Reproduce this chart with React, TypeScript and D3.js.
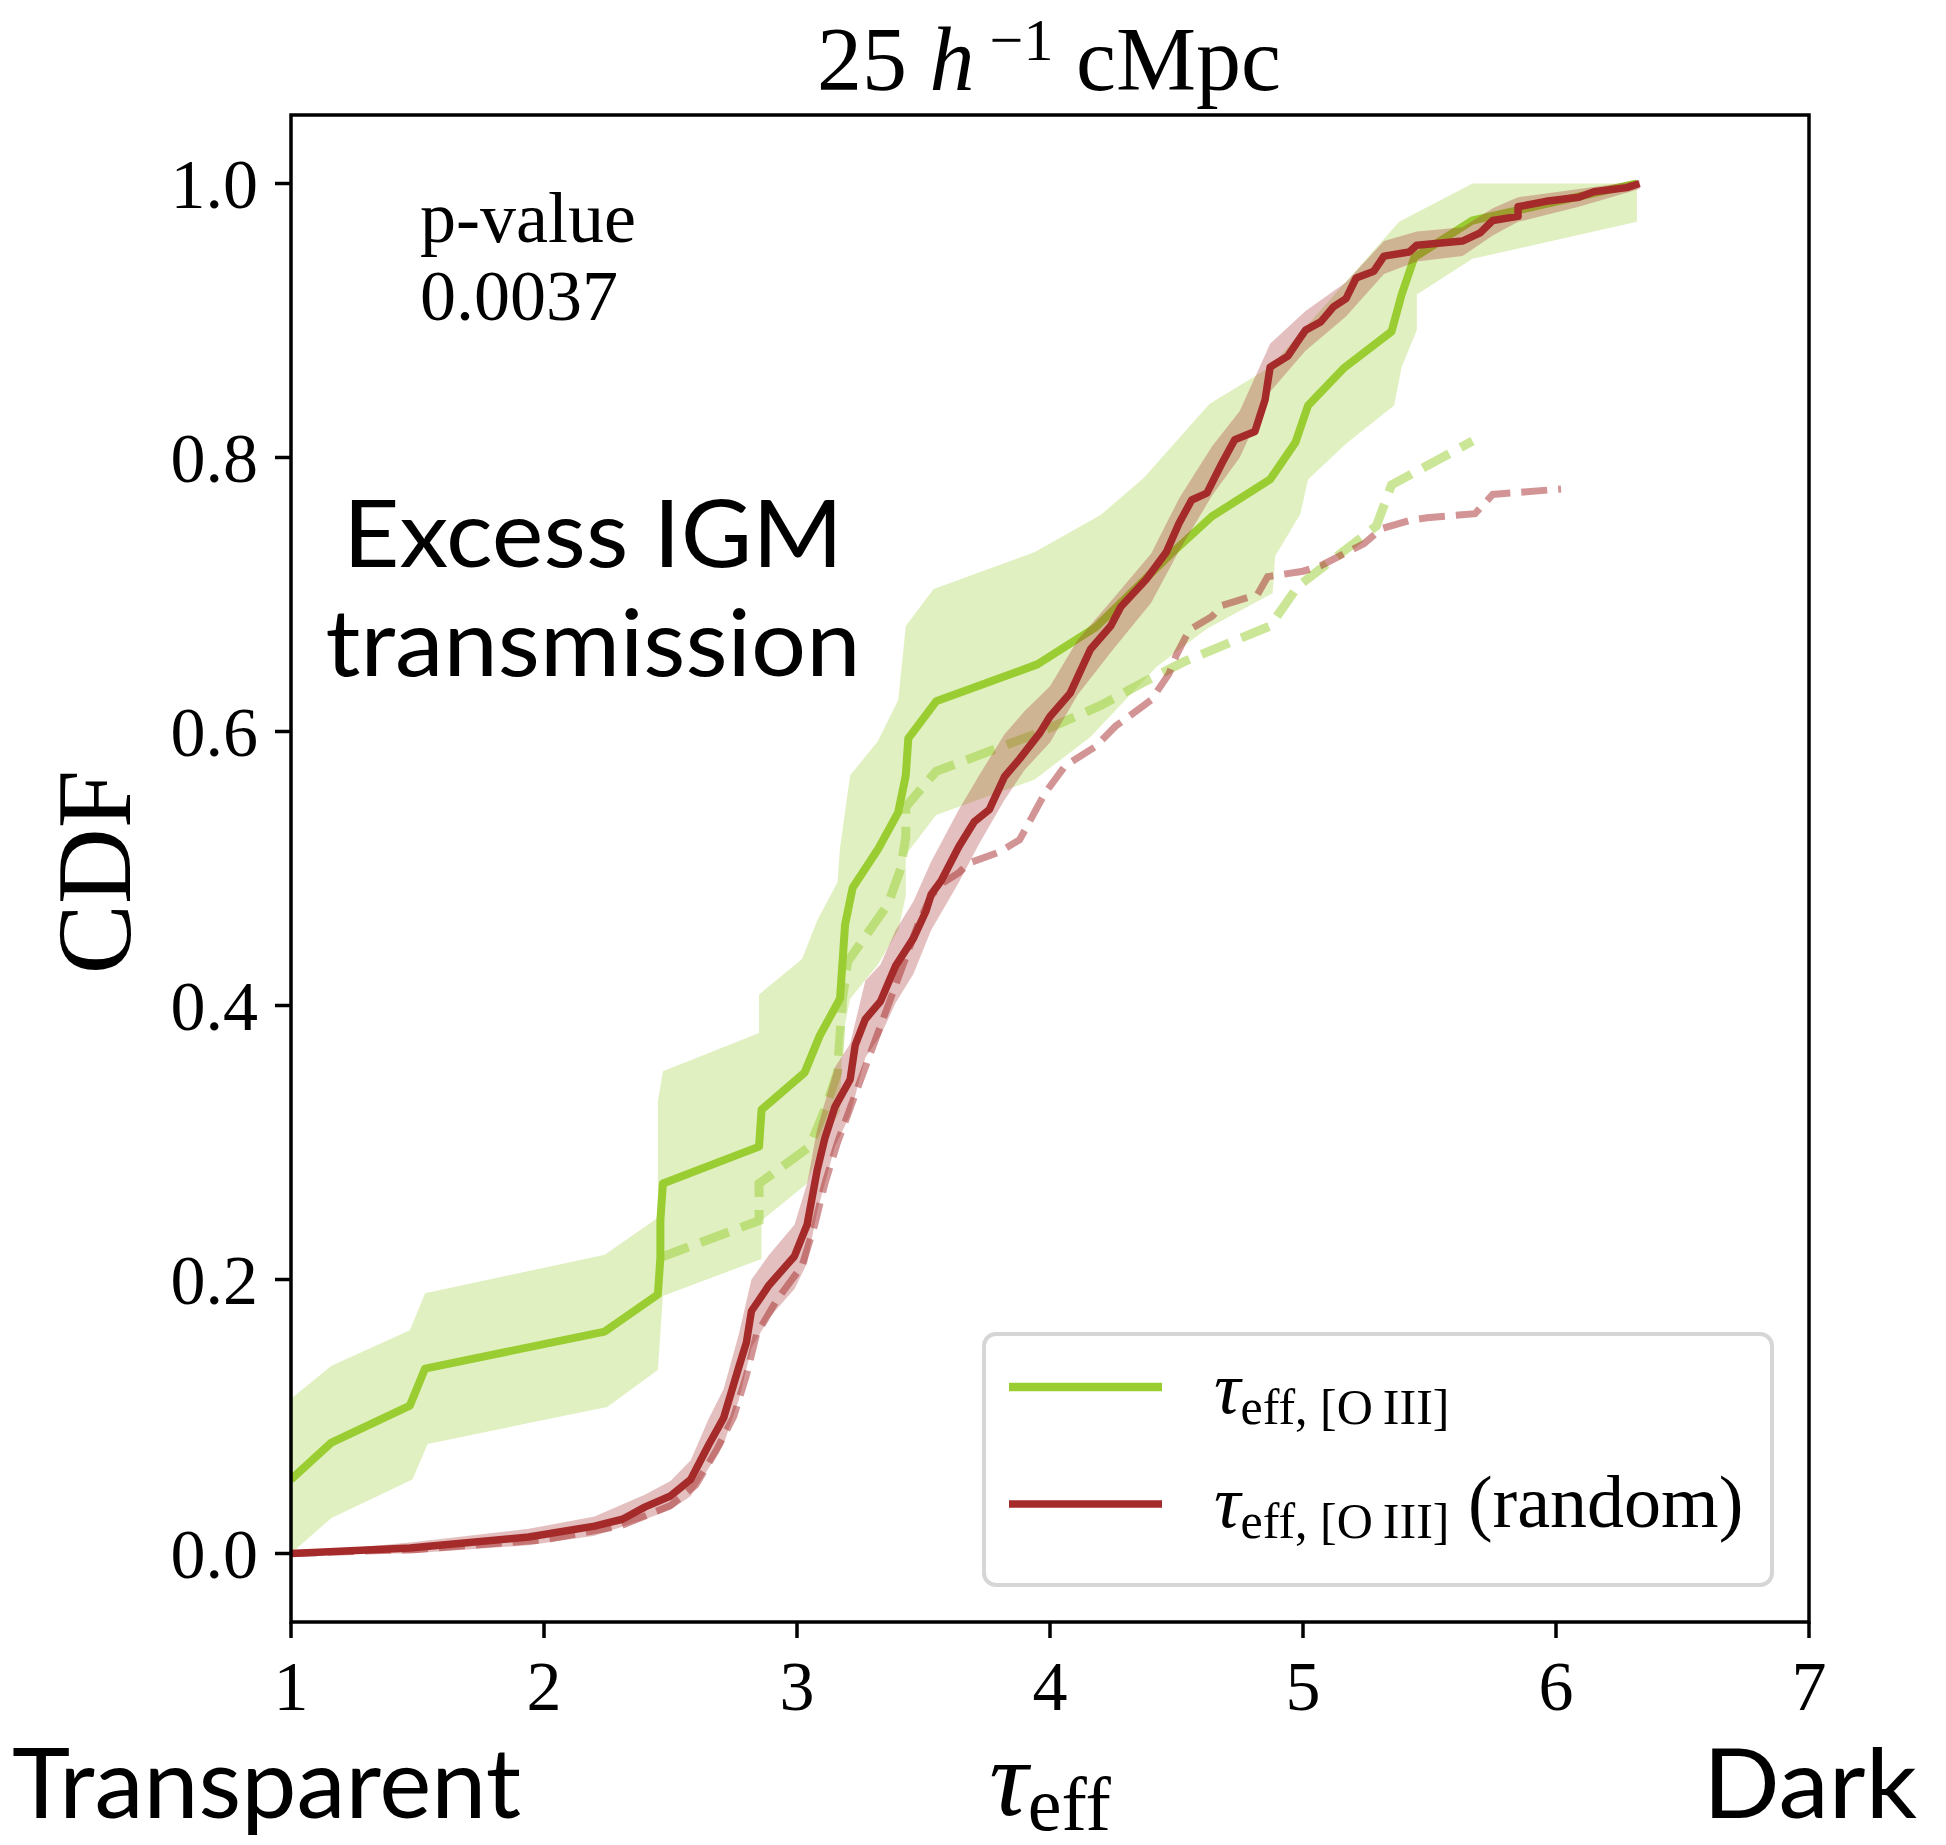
import React from 'react';
import * as d3 from 'd3';

const W = 1946;
const H = 1845;
const M = { left: 291, right: 1809, top: 115, bottom: 1622 };

const GREEN = '#9acd32';
const RED = '#a52a2a';
const SERIF = '"Liberation Serif", "Times New Roman", serif';
const SANS = 'Lato, "Open Sans", sans-serif';

const X_DOMAIN = [1, 7];
const Y_DOMAIN = [-0.05, 1.05];
const xTicks = [1, 2, 3, 4, 5, 6, 7];
const yTicks = [0, 0.2, 0.4, 0.6, 0.8, 1.0];

// CDF of tau_eff for [OIII] sightlines (solid)
const greenCdf = [
  [1.0, 0.054], [1.16, 0.081], [1.47, 0.108], [1.53, 0.135], [2.24, 0.162], [2.45, 0.189],
  [2.46, 0.216], [2.46, 0.243], [2.47, 0.27], [2.85, 0.297], [2.86, 0.324], [3.03, 0.351],
  [3.09, 0.378], [3.17, 0.405], [3.18, 0.432], [3.19, 0.459], [3.22, 0.486], [3.32, 0.514],
  [3.4, 0.541], [3.43, 0.568], [3.44, 0.595], [3.55, 0.622], [3.95, 0.649], [4.18, 0.676],
  [4.33, 0.703], [4.48, 0.73], [4.64, 0.757], [4.87, 0.784], [4.97, 0.811], [5.02, 0.838],
  [5.16, 0.865], [5.35, 0.892], [5.39, 0.919], [5.44, 0.946], [5.67, 0.973], [6.32, 1.0],
];

// with lower limits (dashed)
const greenCdfLim = [
  [2.46, 0.216], [2.85, 0.243], [2.85, 0.27], [3.05, 0.297], [3.11, 0.324], [3.16, 0.351],
  [3.17, 0.378], [3.18, 0.405], [3.2, 0.432], [3.28, 0.453], [3.36, 0.474], [3.41, 0.5],
  [3.43, 0.523], [3.43, 0.545], [3.55, 0.571], [3.94, 0.598], [4.2, 0.619], [4.37, 0.636],
  [4.53, 0.651], [4.87, 0.677], [4.98, 0.706], [5.29, 0.75], [5.35, 0.78], [5.67, 0.812],
];

const greenBandHi = [
  [1.0, 0.113], [1.16, 0.137], [1.47, 0.163], [1.53, 0.19], [2.24, 0.218], [2.45, 0.245],
  [2.45, 0.33], [2.47, 0.352], [2.85, 0.38], [2.85, 0.408], [3.02, 0.434], [3.08, 0.462],
  [3.16, 0.49], [3.17, 0.515], [3.21, 0.568], [3.32, 0.593], [3.4, 0.623], [3.43, 0.677],
  [3.54, 0.704], [3.94, 0.731], [4.2, 0.758], [4.37, 0.785], [4.51, 0.814], [4.63, 0.839],
  [4.87, 0.866], [5.38, 0.972], [5.67, 1.0], [6.32, 1.0],
];

const greenBandLo = [
  [1.0, 0.0], [1.16, 0.026], [1.48, 0.054], [1.54, 0.08], [2.25, 0.107], [2.45, 0.134],
  [2.47, 0.188], [2.86, 0.215], [2.86, 0.243], [3.04, 0.27], [3.09, 0.296], [3.17, 0.323],
  [3.18, 0.377], [3.21, 0.405], [3.32, 0.43], [3.4, 0.455], [3.43, 0.48], [3.43, 0.51],
  [3.55, 0.539], [3.94, 0.565], [4.16, 0.596], [4.42, 0.647], [4.62, 0.675], [4.88, 0.701],
  [4.89, 0.728], [4.99, 0.759], [5.02, 0.784], [5.17, 0.81], [5.36, 0.838], [5.39, 0.866],
  [5.45, 0.893], [5.45, 0.919], [5.67, 0.945], [6.32, 0.972],
];

// random sightlines (solid)
const redCdf = [
  [1.0, 0.0], [1.47, 0.004], [1.94, 0.012], [2.2, 0.02], [2.31, 0.025], [2.4, 0.034],
  [2.5, 0.042], [2.58, 0.054], [2.65, 0.079], [2.71, 0.099], [2.77, 0.136], [2.8, 0.154],
  [2.82, 0.177], [2.89, 0.196], [2.99, 0.217], [3.04, 0.24], [3.08, 0.28], [3.11, 0.303],
  [3.15, 0.326], [3.21, 0.346], [3.23, 0.371], [3.27, 0.39], [3.33, 0.403], [3.39, 0.429],
  [3.46, 0.449], [3.51, 0.469], [3.53, 0.481], [3.57, 0.491], [3.64, 0.516], [3.7, 0.534],
  [3.76, 0.543], [3.82, 0.567], [3.88, 0.58], [3.96, 0.599], [4.0, 0.611], [4.08, 0.628],
  [4.16, 0.66], [4.24, 0.677], [4.28, 0.691], [4.38, 0.711], [4.46, 0.731], [4.51, 0.752],
  [4.56, 0.769], [4.62, 0.774], [4.68, 0.796], [4.73, 0.813], [4.81, 0.819], [4.85, 0.842],
  [4.87, 0.866], [4.94, 0.874], [4.98, 0.885], [5.01, 0.893], [5.07, 0.899], [5.12, 0.91],
  [5.17, 0.916], [5.21, 0.931], [5.28, 0.936], [5.32, 0.947], [5.42, 0.95], [5.45, 0.955],
  [5.63, 0.958], [5.7, 0.964], [5.75, 0.973], [5.85, 0.976], [5.85, 0.983], [5.96, 0.987],
  [6.09, 0.99], [6.15, 0.994], [6.28, 0.997], [6.33, 1.0],
];

// [tau, lower, upper]
const redBand = [
  [1.0, 0.0, 0.0], [1.47, 0.0, 0.008], [1.94, 0.006, 0.018], [2.2, 0.013, 0.027],
  [2.4, 0.025, 0.043], [2.5, 0.032, 0.053], [2.58, 0.042, 0.068], [2.65, 0.062, 0.098],
  [2.71, 0.08, 0.12], [2.77, 0.112, 0.16], [2.82, 0.15, 0.2], [2.89, 0.172, 0.218],
  [2.99, 0.193, 0.24], [3.04, 0.212, 0.27], [3.08, 0.25, 0.31], [3.15, 0.297, 0.355],
  [3.21, 0.32, 0.372], [3.27, 0.362, 0.418], [3.33, 0.378, 0.43], [3.39, 0.402, 0.455],
  [3.46, 0.423, 0.476], [3.53, 0.455, 0.505], [3.64, 0.49, 0.543], [3.72, 0.518, 0.568],
  [3.82, 0.55, 0.598], [3.9, 0.572, 0.615], [4.0, 0.592, 0.633], [4.11, 0.627, 0.667],
  [4.25, 0.66, 0.697], [4.4, 0.694, 0.73], [4.51, 0.732, 0.77], [4.64, 0.772, 0.808],
  [4.75, 0.8, 0.834], [4.87, 0.848, 0.883], [5.01, 0.878, 0.907], [5.17, 0.903, 0.928],
  [5.32, 0.934, 0.958], [5.45, 0.943, 0.965], [5.63, 0.947, 0.968], [5.75, 0.962, 0.982],
  [5.85, 0.972, 0.99], [6.09, 0.983, 0.996], [6.33, 0.996, 1.002],
];

// random, with lower limits (dashed)
const redCdfLim = [
  [1.0, 0.0], [1.5, 0.003], [2.0, 0.01], [2.3, 0.02], [2.5, 0.035], [2.6, 0.05],
  [2.68, 0.075], [2.75, 0.1], [2.8, 0.13], [2.84, 0.16], [2.92, 0.185], [3.02, 0.21],
  [3.07, 0.24], [3.11, 0.27], [3.16, 0.3], [3.22, 0.33], [3.28, 0.36], [3.35, 0.395],
  [3.42, 0.43], [3.48, 0.46], [3.53, 0.48], [3.58, 0.49], [3.64, 0.497], [3.68, 0.504],
  [3.8, 0.512], [3.88, 0.521], [3.98, 0.555], [4.06, 0.575], [4.18, 0.589], [4.26, 0.604],
  [4.4, 0.623], [4.47, 0.642], [4.5, 0.656], [4.55, 0.674], [4.64, 0.684], [4.68, 0.692],
  [4.82, 0.7], [4.86, 0.713], [5.0, 0.717], [5.07, 0.721], [5.24, 0.737], [5.31, 0.748],
  [5.42, 0.754], [5.49, 0.756], [5.68, 0.759], [5.75, 0.773], [6.02, 0.777],
];

const App = () => {
  const x = d3.scaleLinear().domain(X_DOMAIN).range([M.left, M.right]);
  const y = d3.scaleLinear().domain(Y_DOMAIN).range([M.bottom, M.top]);

  const line = d3.line<number[]>().x(d => x(d[0])).y(d => y(d[1]));
  const band = (hi, lo) =>
    line(hi) + 'L' + line([...lo].reverse()).slice(1) + 'Z';
  const redArea = d3.area<number[]>()
    .x(d => x(d[0]))
    .y0(d => y(d[1]))
    .y1(d => y(d[2]));

  const oiii = '[O\u2009III]';

  return (
    <svg width={W} height={H} style={{ position: 'absolute', left: 0, top: 0, background: '#fff' }}>
      <defs>
        <clipPath id="plot">
          <rect x={M.left} y={M.top} width={M.right - M.left} height={M.bottom - M.top} />
        </clipPath>
      </defs>

      {/* title */}
      <text x={1049} y={90} textAnchor="middle" fontFamily={SERIF} fontSize={90}>
        25 <tspan fontStyle="italic">h</tspan>
        <tspan dy={-30} fontSize={60}> −1</tspan>
        <tspan dy={30}> cMpc</tspan>
      </text>

      <g clipPath="url(#plot)">
        <path d={band(greenBandHi, greenBandLo)} fill={GREEN} fillOpacity={0.3} stroke="none" />
        <path d={line(greenCdfLim)} fill="none" stroke={GREEN} strokeOpacity={0.5}
          strokeWidth={9} strokeDasharray="30,13" />
        <path d={line(greenCdf)} fill="none" stroke={GREEN} strokeWidth={8} strokeLinejoin="round" />
        <path d={redArea(redBand)} fill={RED} fillOpacity={0.3} stroke="none" />
        <path d={line(redCdfLim)} fill="none" stroke={RED} strokeOpacity={0.5}
          strokeWidth={7} strokeDasharray="26,11" />
        <path d={line(redCdf)} fill="none" stroke={RED} strokeWidth={7.5} strokeLinejoin="round" />
      </g>

      {/* annotations */}
      <text x={420} y={242} fontFamily={SERIF} fontSize={72}>p-value</text>
      <text x={420} y={320} fontFamily={SERIF} fontSize={72}>0.0037</text>
      <text x={593} y={567} textAnchor="middle" fontFamily={SANS} fontSize={94}
        textLength={500} lengthAdjust="spacingAndGlyphs">Excess IGM</text>
      <text x={593} y={676} textAnchor="middle" fontFamily={SANS} fontSize={94}
        textLength={535} lengthAdjust="spacingAndGlyphs">transmission</text>

      {/* legend */}
      <g>
        <rect x={984} y={1334} width={788} height={251} rx={12} fill="#fff"
          stroke="#d6d6d6" strokeWidth={4} />
        <line x1={1009} x2={1162} y1={1387} y2={1387} stroke={GREEN} strokeWidth={8.5} />
        <line x1={1009} x2={1162} y1={1504} y2={1504} stroke={RED} strokeWidth={7.5} />
        <text x={1214} y={1413} fontFamily={SERIF} fontSize={74}>
          <tspan fontStyle="italic">τ</tspan>
          <tspan dy={11} fontSize={50}>eff, {oiii}</tspan>
        </text>
        <text x={1214} y={1527} fontFamily={SERIF} fontSize={74}>
          <tspan fontStyle="italic">τ</tspan>
          <tspan dy={11} fontSize={50}>eff, {oiii}</tspan>
          <tspan dy={-11}> (random)</tspan>
        </text>
      </g>

      {/* axes frame */}
      <rect x={M.left} y={M.top} width={M.right - M.left} height={M.bottom - M.top}
        fill="none" stroke="#000" strokeWidth={3.5} />

      {xTicks.map(t => (
        <g key={'x' + t}>
          <line x1={x(t)} x2={x(t)} y1={M.bottom} y2={M.bottom + 16} stroke="#000" strokeWidth={3.5} />
          <text x={x(t)} y={1710} textAnchor="middle" fontFamily={SERIF} fontSize={70}>{t}</text>
        </g>
      ))}
      {yTicks.map(t => (
        <g key={'y' + t}>
          <line x1={M.left - 16} x2={M.left} y1={y(t)} y2={y(t)} stroke="#000" strokeWidth={3.5} />
          <text x={258} y={y(t) + 24} textAnchor="end" fontFamily={SERIF} fontSize={70}>{t.toFixed(1)}</text>
        </g>
      ))}

      {/* axis labels */}
      <text transform="translate(130,872) rotate(-90)" textAnchor="middle" fontFamily={SERIF} fontSize={105}>CDF</text>
      <text x={1050} y={1815} textAnchor="middle" fontFamily={SERIF} fontSize={108}>
        <tspan fontStyle="italic">τ</tspan>
        <tspan dy={15} fontSize={76}>eff</tspan>
      </text>
      <text x={12} y={1818} fontFamily={SANS} fontSize={96}
        textLength={509} lengthAdjust="spacingAndGlyphs">Transparent</text>
      <text x={1703} y={1818} fontFamily={SANS} fontSize={96}
        textLength={214} lengthAdjust="spacingAndGlyphs">Dark</text>
    </svg>
  );
};

export default App;
